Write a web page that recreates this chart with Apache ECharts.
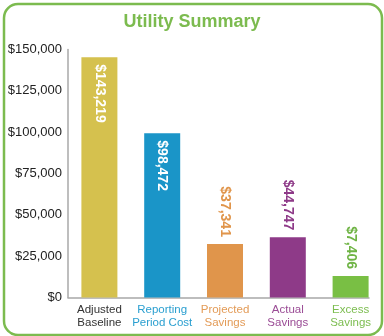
<!DOCTYPE html>
<html><head><meta charset="utf-8">
<script src="https://cdn.jsdelivr.net/npm/echarts@6/dist/echarts.min.js"></script>
<style>html,body{margin:0;padding:0;background:#fff}#c{width:384px;height:336px}</style>
</head><body><div id="c"></div>
<script>
var categories = ['Adjusted\nBaseline', 'Reporting\nPeriod Cost', 'Projected\nSavings', 'Actual\nSavings', 'Excess\nSavings'];
var barValues = [145300, 99300, 32400, 36400, 13000];
var valueLabels = ['$143,219', '$98,472', '$37,341', '$44,747', '$7,406'];
var labelInside = [true, true, false, false, false];
var barColors = ['#d5c14e', '#1a95c8', '#e0954b', '#8e3a88', '#79bf44'];
var catLabelColors = ['#333333', '#2a9fd0', '#e39b57', '#9a4b95', '#7cbd50'];
var outLabelColors = ['#ffffff', '#ffffff', '#e0954b', '#8e3a88', '#6fb445'];
var yTicks = [0, 25000, 50000, 75000, 100000, 125000, 150000];

var FONT = '"Liberation Sans", Arial, sans-serif';
var chart = echarts.init(document.getElementById('c'), null, {renderer: 'canvas'});

var data = barValues.map(function (v, i) {
  var inside = labelInside[i];
  return {
    value: v,
    itemStyle: {color: barColors[i]},
    label: inside ? {
      show: true, position: 'insideTop', rotate: -90, align: 'left', verticalAlign: 'middle',
      distance: 7, color: '#ffffff', fontSize: 14, fontWeight: 'bold', fontFamily: FONT,
      formatter: valueLabels[i]
    } : {
      show: true, position: 'top', rotate: -90, align: 'right', verticalAlign: 'middle',
      distance: 7, color: outLabelColors[i], fontSize: 14, fontWeight: 'bold', fontFamily: FONT,
      formatter: valueLabels[i]
    }
  };
});

chart.setOption({
  animation: false,
  backgroundColor: '#ffffff',
  title: {
    text: 'Utility Summary', left: 'center', top: 8,
    textStyle: {color: '#7cbb4f', fontSize: 18, fontWeight: 'bold', fontFamily: FONT}
  },
  graphic: [{
    type: 'rect', left: 1.5, top: 1.5, z: -1, silent: true,
    shape: {width: 378, height: 331, r: 14},
    style: {fill: 'none', stroke: '#7cbb4f', lineWidth: 2.5}
  }],
  grid: [
    {left: 68, right: 2, top: 49.5, bottom: 38.5},
    {left: 68, right: 15, top: 297.5, height: 0}
  ],
  xAxis: [{
    type: 'category', gridIndex: 0,
    data: categories.map(function (c, i) { return {value: c, textStyle: {color: catLabelColors[i]}}; }),
    axisLine: {show: false}, axisTick: {show: false},
    axisLabel: {fontSize: 11.5, lineHeight: 13, margin: 6, fontFamily: FONT, interval: 0}
  }, {
    type: 'value', gridIndex: 1, min: 0, max: 1,
    axisLine: {show: true, lineStyle: {color: '#a8a8a8', width: 1.5}},
    axisTick: {show: false}, axisLabel: {show: false}, splitLine: {show: false}
  }],
  yAxis: [{
    type: 'value', gridIndex: 0, min: yTicks[0], max: yTicks[yTicks.length - 1], interval: 25000,
    axisLine: {show: true, lineStyle: {color: '#a8a8a8', width: 1.5}},
    axisTick: {show: false}, splitLine: {show: false},
    axisLabel: {
      fontSize: 13, color: '#222222', margin: 6, fontFamily: FONT,
      formatter: function (v) { return '$' + v.toLocaleString('en-US'); }
    }
  }, {
    type: 'value', gridIndex: 1, show: false
  }],
  series: [{
    type: 'bar', xAxisIndex: 0, yAxisIndex: 0, barWidth: 36, data: data
  }]
});
</script></body></html>
